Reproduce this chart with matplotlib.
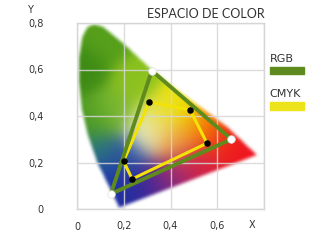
import numpy as np
import matplotlib
matplotlib.use('Agg')
import matplotlib.pyplot as plt
from matplotlib.path import Path

title = "ESPACIO DE COLOR"
x_ticks = [0, 0.2, 0.4, 0.6]
x_tick_labels = ["0", "0,2", "0,4", "0,6"]
y_ticks = [0, 0.2, 0.4, 0.6, 0.8]
y_tick_labels = ["0", "0,2", "0,4", "0,6", "0,8"]

# gamut outline
locus_x = [0.18, 0.116, 0.086, 0.045, 0.02, 0.008, 0.008, 0.022, 0.045, 0.073,
           0.11, 0.196, 0.321, 0.42, 0.50, 0.642, 0.77]
locus_y = [0.005, 0.138, 0.20, 0.32, 0.43, 0.55, 0.65, 0.74, 0.785, 0.795,
           0.785, 0.714, 0.598, 0.52, 0.46, 0.354, 0.232]

# colour anchors inside the gamut
anchor_x = [0.03, 0.12, 0.25, 0.06, 0.15, 0.08, 0.12, 0.18, 0.25, 0.33, 0.42, 0.52,
            0.68, 0.60, 0.53, 0.44, 0.36, 0.30, 0.42, 0.21]
anchor_y = [0.60, 0.72, 0.55, 0.38, 0.42, 0.25, 0.14, 0.06, 0.08, 0.10, 0.15, 0.20,
            0.27, 0.32, 0.37, 0.45, 0.40, 0.33, 0.29, 0.22]
anchor_c = ["#3c8a14", "#55a01a", "#8cc21e", "#4a9a20", "#7ab830", "#2a7a78",
            "#1e40a8", "#1e30a0", "#2828a0", "#5a2890", "#a02870", "#d82040",
            "#ee1420", "#f04010", "#f5a000", "#ece400", "#e8e040", "#eaecc8",
            "#f0a040", "#2a50a0"]

rgb_x = [0.32, 0.66, 0.145]
rgb_y = [0.595, 0.30, 0.065]
cmyk_x = [0.31, 0.484, 0.556, 0.236, 0.199]
cmyk_y = [0.461, 0.426, 0.283, 0.129, 0.206]

fig = plt.figure(figsize=(3.2, 2.4), dpi=100)
ax = fig.add_axes([77/320, 31/240, 187/320, 186/240])
ax.set_xlim(0, 0.8)
ax.set_ylim(0, 0.8)

# build gamut image
N = 360
gx = np.linspace(0, 0.8, N)
gy = np.linspace(0, 0.8, N)
X, Y = np.meshgrid(gx, gy)
cols = np.array([matplotlib.colors.to_rgb(c) for c in anchor_c])
ax_a = np.array(anchor_x)[:, None, None]
ay_a = np.array(anchor_y)[:, None, None]
d2 = (X[None] - ax_a) ** 2 + (Y[None] - ay_a) ** 2
w = np.exp(-d2 / (2 * 0.06 ** 2)) + 1e-12
w = w / w.sum(axis=0, keepdims=True)
rgb = np.tensordot(w, cols, axes=([0], [0]))

poly = Path(np.column_stack([locus_x + [locus_x[0]], locus_y + [locus_y[0]]]))
mask = poly.contains_points(np.column_stack([X.ravel(), Y.ravel()])).reshape(N, N).astype(float)
k = np.ones(7) / 7.0
for _ in range(2):
    mask = np.apply_along_axis(lambda r: np.convolve(r, k, mode='same'), 1, mask)
    mask = np.apply_along_axis(lambda r: np.convolve(r, k, mode='same'), 0, mask)
img = np.dstack([rgb, mask])
ax.imshow(img, extent=(0, 0.8, 0, 0.8), origin='lower', aspect='auto',
          interpolation='bilinear', zorder=0)

ax.set_xticks(x_ticks + [0.8])
ax.set_xticklabels(x_tick_labels + [""])
ax.set_yticks(y_ticks)
ax.set_yticklabels(y_tick_labels)
ax.grid(True, color='#d6d6d6', linewidth=1.0, alpha=0.85, zorder=1)
ax.set_axisbelow(False)
for s in ax.spines.values():
    s.set_color('#d6d6d6')
    s.set_linewidth(1.0)
ax.tick_params(length=0, labelsize=7, colors='#333333')
ax.tick_params(axis='y', pad=24)
ax.tick_params(axis='x', pad=9)

ax.plot(cmyk_x + [cmyk_x[0]], cmyk_y + [cmyk_y[0]], color='#f2e205', lw=2.2, zorder=3,
        solid_joinstyle='round')
ax.plot(rgb_x + [rgb_x[0]], rgb_y + [rgb_y[0]], color='#5f8a1e', lw=2.8, zorder=4,
        solid_joinstyle='round')
ax.scatter(cmyk_x, cmyk_y, s=22, color='black', zorder=5, linewidths=0)
ax.scatter(rgb_x, rgb_y, s=30, color='white', edgecolors='#e0e0e0', linewidths=0.5, zorder=5)

fig.text(252/320, 1 - 225/240, "X", fontsize=7, color='#333333', ha='center', va='center')
fig.text(30/320, 1 - 10/240, "Y", fontsize=7, color='#333333', ha='center', va='center')
fig.text(265/320, 1 - 14/240, title, fontsize=9, color='#333333', ha='right', va='center',
         family='Lato')

fig.text(270/320, 1 - 59/240, "RGB", fontsize=8, color='#333333', ha='left', va='center')
fig.patches.append(matplotlib.patches.Rectangle((270/320, 1 - 74/240), 34/320, 7/240,
                   transform=fig.transFigure, color='#5f8a1e'))
fig.text(269/320, 1 - 94/240, "CMYK", fontsize=8, color='#333333', ha='left', va='center')
fig.patches.append(matplotlib.patches.Rectangle((270/320, 1 - 110/240), 34/320, 8/240,
                   transform=fig.transFigure, color='#ede31a'))

fig.savefig('out.png', dpi=100)
